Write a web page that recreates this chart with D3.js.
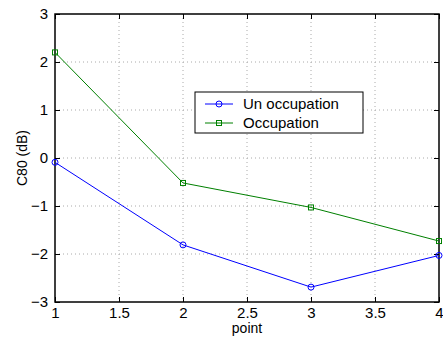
<!DOCTYPE html>
<html>
<head>
<meta charset="utf-8">
<script src="https://cdn.jsdelivr.net/npm/d3@7"></script>
<style>
  body { margin: 0; background: #fff; }
  svg { display: block; font-family: "Liberation Sans", Arial, sans-serif; }
</style>
</head>
<body>
<div id="chart"></div>
<script>
// data
const points = [1, 2, 3, 4];
const unOccupation = [-0.09, -1.81, -2.69, -2.03];
const occupation = [2.2, -0.52, -1.03, -1.73];
const xTicks = [1, 1.5, 2, 2.5, 3, 3.5, 4];
const yTicks = [-3, -2, -1, 0, 1, 2, 3];
const seriesNames = ["Un occupation", "Occupation"];

const W = 443, H = 340;
const margin = { left: 55, right: 4, top: 14, bottom: 38 };
const innerW = W - margin.left - margin.right;
const innerH = H - margin.top - margin.bottom;

const svg = d3.select("#chart").append("svg")
  .attr("width", W).attr("height", H);
const g = svg.append("g").attr("transform", `translate(${margin.left},${margin.top})`);

const x = d3.scaleLinear().domain([1, 4]).range([0, innerW]);
const y = d3.scaleLinear().domain([-3, 3]).range([innerH, 0]);

// grid
g.append("g").selectAll("line").data(xTicks.slice(1, -1)).join("line")
  .attr("x1", d => x(d)).attr("x2", d => x(d))
  .attr("y1", 0).attr("y2", innerH)
  .attr("stroke", "#aaa").attr("stroke-width", 1).attr("stroke-dasharray", "1,3");
g.append("g").selectAll("line").data(yTicks.slice(1, -1)).join("line")
  .attr("y1", d => y(d)).attr("y2", d => y(d))
  .attr("x1", 0).attr("x2", innerW)
  .attr("stroke", "#aaa").attr("stroke-width", 1).attr("stroke-dasharray", "1,3");

// axes with inward ticks
const xAxis = g.append("g").attr("transform", `translate(0,${innerH})`)
  .call(d3.axisBottom(x).tickValues(xTicks).tickSizeInner(-5).tickSizeOuter(0).tickPadding(5).tickFormat(d3.format("")));
const xTop = g.append("g")
  .call(d3.axisTop(x).tickValues(xTicks).tickSizeInner(-5).tickSizeOuter(0).tickFormat(""));
const yAxis = g.append("g")
  .call(d3.axisLeft(y).tickValues(yTicks).tickSizeInner(-5).tickSizeOuter(0).tickPadding(7)
    .tickFormat(d => d < 0 ? "\u2212" + Math.abs(d) : d));
const yRight = g.append("g").attr("transform", `translate(${innerW},0)`)
  .call(d3.axisRight(y).tickValues(yTicks).tickSizeInner(-5).tickSizeOuter(0).tickFormat(""));

[xAxis, xTop, yAxis, yRight].forEach(a => {
  a.select(".domain").remove();
  a.selectAll("line").attr("stroke", "#000");
  a.selectAll("text").attr("font-size", 15).attr("fill", "#000")
    .attr("font-family", "Liberation Sans, Arial, sans-serif");
});

// frame
g.append("rect").attr("width", innerW).attr("height", innerH)
  .attr("fill", "none").attr("stroke", "#000").attr("stroke-width", 1.5);

// series
const line = d3.line().x((d, i) => x(points[i])).y(d => y(d));
g.append("path").datum(unOccupation).attr("d", line)
  .attr("fill", "none").attr("stroke", "#0000ff").attr("stroke-width", 1);
g.append("path").datum(occupation).attr("d", line)
  .attr("fill", "none").attr("stroke", "#008000").attr("stroke-width", 1);

g.selectAll(".mc").data(unOccupation).join("circle").attr("class", "mc")
  .attr("cx", (d, i) => x(points[i])).attr("cy", d => y(d)).attr("r", 3)
  .attr("fill", "none").attr("stroke", "#0000ff");
g.selectAll(".ms").data(occupation).join("rect").attr("class", "ms")
  .attr("x", (d, i) => x(points[i]) - 2.5).attr("y", d => y(d) - 2.5)
  .attr("width", 5).attr("height", 5)
  .attr("fill", "none").attr("stroke", "#008000");

// axis labels
svg.append("text").attr("x", margin.left + innerW / 2).attr("y", 333)
  .attr("text-anchor", "middle").attr("font-size", 14).text("point");
svg.append("text").attr("transform", `translate(27,${margin.top + y(0)}) rotate(-90)`)
  .attr("text-anchor", "middle").attr("font-size", 14).text("C80 (dB)");

// legend
const lg = svg.append("g").attr("transform", "translate(195,92)");
lg.append("rect").attr("width", 168).attr("height", 41)
  .attr("fill", "#fff").attr("stroke", "#000").attr("stroke-width", 1);
const colors = ["#0000ff", "#008000"];
seriesNames.forEach((name, i) => {
  const yy = 12 + i * 19;
  lg.append("line").attr("x1", 10).attr("x2", 38).attr("y1", yy).attr("y2", yy)
    .attr("stroke", colors[i]);
  if (i === 0) {
    lg.append("circle").attr("cx", 24).attr("cy", yy).attr("r", 3)
      .attr("fill", "none").attr("stroke", colors[i]);
  } else {
    lg.append("rect").attr("x", 21.5).attr("y", yy - 2.5).attr("width", 5).attr("height", 5)
      .attr("fill", "none").attr("stroke", colors[i]);
  }
  lg.append("text").attr("x", 48).attr("y", yy + 5).attr("font-size", 15).text(name);
});
</script>
</body>
</html>
